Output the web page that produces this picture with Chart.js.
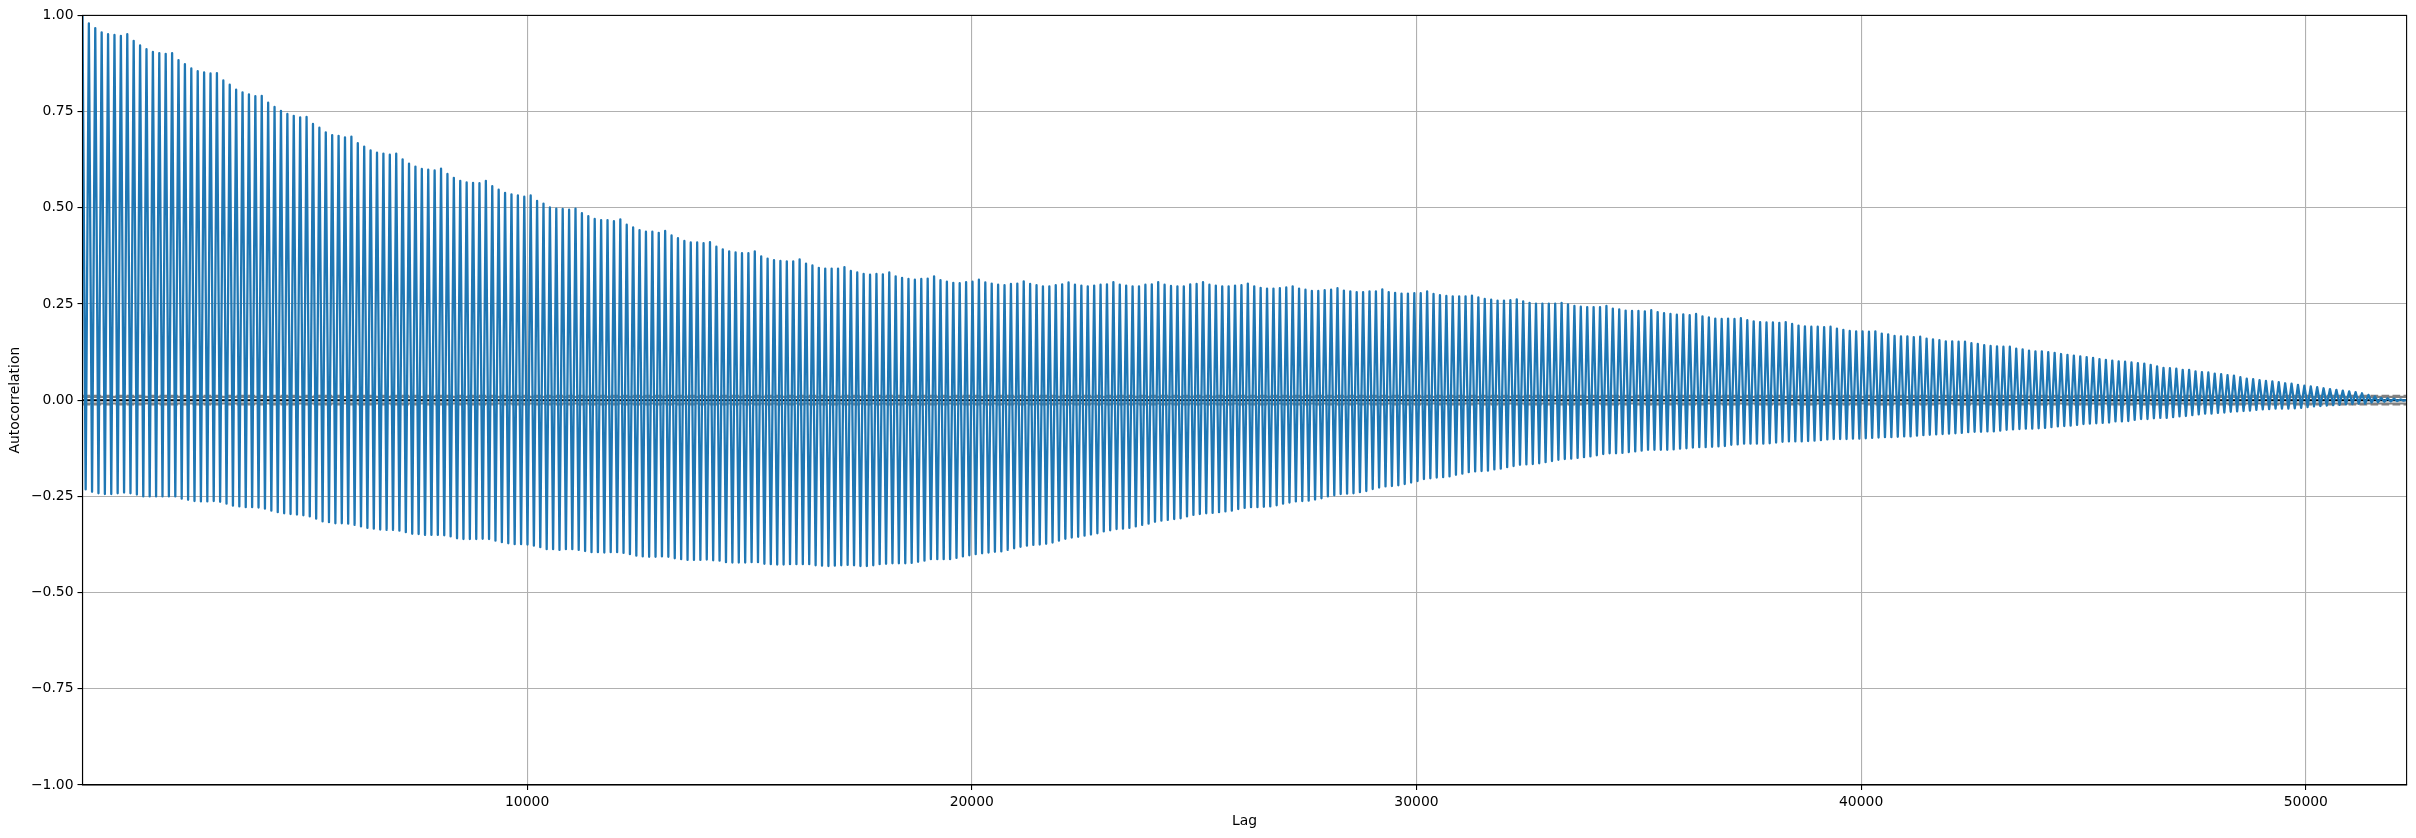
<!DOCTYPE html>
<html>
<head>
<meta charset="utf-8">
<title>Autocorrelation</title>
<script src="https://cdn.jsdelivr.net/npm/chart.js@4"></script>
<style>
  html, body { margin: 0; padding: 0; background: #fff; }
  canvas { display: block; }
</style>
</head>
<body>
<canvas id="myChart" width="2416" height="838"></canvas>
<script>
// tick labels
const xTicks = [10000, 20000, 30000, 40000, 50000];
const yTicks = [-1, -0.75, -0.5, -0.25, 0, 0.25, 0.5, 0.75, 1];

// lag range and the length of one cycle
const lagStart = 1;
const lagEnd = 52267;
const cycleLag = 144;

// top of each cycle (lag 144, 288, ...)
const peakValues = [
  .979,.967,.956,.951,.949,.947,.951,
  .934,.922,.912,.905,.902,.900,.902,
  .884,.873,.862,.855,.852,.849,.850,
  .831,.820,.807,.800,.795,.790,.791,
  .773,.762,.752,.744,.739,.735,.736,
  .718,.708,.696,.689,.687,.683,.685,
  .668,.659,.649,.643,.641,.638,.641,
  .626,.615,.607,.601,.599,.597,.602,
  .588,.578,.570,.566,.565,.564,.570,
  .556,.547,.539,.535,.532,.529,.532,
  .518,.511,.501,.498,.497,.495,.498,
  .486,.478,.471,.468,.468,.465,.470,
  .456,.449,.442,.438,.438,.435,.440,
  .428,.421,.414,.410,.410,.408,.411,
  .399,.392,.387,.384,.382,.382,.387,
  .374,.368,.364,.362,.361,.361,.366,
  .355,.350,.344,.342,.342,.342,.346,
  .336,.332,.328,.326,.328,.327,.332,
  .322,.318,.315,.313,.315,.316,.322,
  .312,.308,.305,.304,.307,.308,.313,
  .306,.303,.300,.299,.302,.303,.309,
  .302,.299,.296,.296,.299,.301,.306,
  .300,.298,.296,.298,.300,.301,.307,
  .300,.298,.296,.296,.300,.301,.307,
  .300,.297,.296,.296,.301,.302,.307,
  .300,.298,.296,.296,.298,.299,.303,
  .296,.292,.290,.290,.291,.293,.296,
  .290,.287,.284,.284,.286,.287,.291,
  .285,.283,.281,.281,.283,.283,.288,
  .281,.279,.277,.277,.278,.278,.283,
  .276,.273,.271,.270,.270,.270,.272,
  .267,.263,.261,.259,.259,.260,.262,
  .257,.253,.251,.251,.251,.251,
  .253,.249,.245,.243,.242,.242,.242,
  .245,.238,.236,.233,.232,.232,.231,
  .234,.229,.226,.224,.222,.223,.221,
  .224,.218,.215,.212,.211,.212,.211,
  .213,.208,.205,.203,.202,.202,.201,
  .203,.198,.194,.192,.191,.191,.190,
  .191,.186,.183,.180,.179,.179,.178,
  .179,.173,.171,.167,.166,.166,.164,
  .165,.160,.158,.156,.153,.153,.152,
  .152,.148,.146,.143,.141,.140,.139,
  .139,.134,.132,.129,.127,.127,.125,
  .123,.120,.118,.116,.114,.112,.110,.107,
  .105,.103,.101,.100,.098,.096,.095,
  .092,.088,.084,.083,.082,.079,.079,
  .075,.073,.072,.069,.068,.065,.064,
  .060,.056,.055,.052,.050,.049,.047,
  .044,.043,.040,.038,.036,.034,.031,
  .029,.027,.025,.023,.021,.018,.014,
  .010,.006,.005,.004,.002,.001
];

// bottom of each cycle (lag 72, 216, ...)
const troughValues = [
  -.232,-.238,-.242,-.244,-.244,-.242,-.240,
  -.242,-.245,-.250,-.250,-.250,-.250,-.250,
  -.250,-.256,-.259,-.262,-.263,-.263,-.262,
  -.264,-.269,-.274,-.276,-.278,-.278,-.279,
  -.282,-.287,-.291,-.294,-.296,-.297,-.299,
  -.302,-.308,-.315,-.317,-.320,-.320,-.321,
  -.324,-.328,-.332,-.334,-.336,-.337,-.337,
  -.339,-.343,-.347,-.348,-.350,-.350,-.350,
  -.351,-.354,-.359,-.361,-.361,-.361,-.360,
  -.361,-.365,-.369,-.372,-.374,-.374,-.375,
  -.378,-.382,-.387,-.387,-.389,-.387,-.387,-.389,
  -.392,-.395,-.395,-.396,-.395,-.395,-.397,
  -.400,-.404,-.406,-.407,-.407,-.406,-.407,
  -.411,-.413,-.415,-.415,-.415,-.414,-.416,
  -.417,-.421,-.422,-.422,-.422,-.421,-.421,
  -.425,-.426,-.427,-.427,-.426,-.426,-.426,
  -.426,-.429,-.430,-.431,-.430,-.429,-.428,
  -.429,-.431,-.431,-.429,-.426,-.425,-.424,
  -.424,-.424,-.423,-.420,-.417,-.413,-.413,
  -.413,-.413,-.410,-.406,-.403,-.400,-.398,
  -.396,-.394,-.393,-.389,-.385,-.381,-.378,
  -.376,-.375,-.373,-.370,-.365,-.360,
  -.357,-.355,-.352,-.349,-.346,-.341,-.338,
  -.335,-.334,-.332,-.328,-.324,-.321,-.316,
  -.313,-.311,-.309,-.307,-.302,-.298,-.296,
  -.294,-.293,-.291,-.289,-.287,-.283,-.280,
  -.278,-.278,-.277,-.276,-.273,-.269,-.266,
  -.263,-.262,-.261,-.258,-.255,-.250,-.247,
  -.244,-.243,-.242,-.239,-.236,-.231,-.227,
  -.224,-.223,-.221,-.218,-.214,-.210,-.205,
  -.203,-.201,-.200,-.198,-.194,-.191,-.187,
  -.185,-.184,-.183,-.180,-.178,-.174,-.171,
  -.168,-.167,-.166,-.164,-.161,-.158,-.155,
  -.153,-.152,-.150,-.148,-.146,-.143,-.140,
  -.138,-.138,-.137,-.135,-.133,-.131,-.129,
  -.129,-.129,-.129,-.128,-.126,-.125,-.123,
  -.122,-.122,-.121,-.120,-.119,-.116,-.115,
  -.113,-.113,-.113,-.113,-.112,-.110,-.108,
  -.107,-.107,-.107,-.106,-.105,-.104,-.102,
  -.101,-.101,-.101,-.100,-.100,-.099,-.098,
  -.097,-.096,-.096,-.095,-.094,-.094,-.092,
  -.091,-.090,-.089,-.088,-.087,-.086,-.085,
  -.083,-.082,-.082,-.081,-.081,-.079,-.077,
  -.076,-.075,-.074,-.074,-.073,-.072,-.070,-.068,
  -.067,-.066,-.064,-.062,-.061,-.060,
  -.059,-.058,-.055,-.055,-.054,-.051,-.049,
  -.049,-.047,-.046,-.046,-.044,-.042,-.041,
  -.039,-.037,-.035,-.035,-.033,-.032,-.030,
  -.029,-.028,-.027,-.025,-.024,-.023,-.022,
  -.022,-.022,-.021,-.020,-.018,-.016,-.015,
  -.014,-.013,-.012,-.011,-.010,-.009,-.009,
  -.006,-.005,-.004,-.003,-.002,-.001
];

// confidence bands, solid and dashed
const band95 = 0.0086;
const band99 = 0.0113;

// put trough, peak, trough, peak ... in lag order
const acfPoints = [{ x: lagStart, y: 1 }];
troughValues.forEach((trough, i) => {
  acfPoints.push({ x: cycleLag * i + cycleLag / 2, y: trough });
  if (i < peakValues.length) {
    acfPoints.push({ x: cycleLag * (i + 1), y: peakValues[i] });
  }
});
acfPoints.push({ x: lagEnd, y: 0 });

const hLine = (y, color, dash) => ({
  data: [{ x: lagStart, y: y }, { x: lagEnd, y: y }],
  borderColor: color,
  borderWidth: 2.08,
  borderDash: dash || [],
  pointRadius: 0,
  order: 1
});

// top and right edges of the box
const frame = {
  id: 'frame',
  afterDraw(chart) {
    const { ctx, chartArea: a } = chart;
    ctx.save();
    ctx.strokeStyle = '#000';
    ctx.lineWidth = 1.1;
    ctx.strokeRect(a.left, a.top, a.right - a.left, a.bottom - a.top);
    ctx.restore();
  }
};

const font = { family: '"DejaVu Sans"', size: 13.9 };
const ctx = document.getElementById('myChart');

new Chart(ctx, {
  type: 'line',
  data: {
    datasets: [
      {
        data: acfPoints,
        borderColor: '#1f77b4',
        borderWidth: 2.3,
        borderJoinStyle: 'round',
        pointRadius: 0,
        tension: 0,
        order: 0
      },
      hLine(band99, 'grey', [7.7, 3.3]),
      hLine(band95, 'grey'),
      hLine(0, 'black'),
      hLine(-band95, 'grey'),
      hLine(-band99, 'grey', [7.7, 3.3])
    ]
  },
  options: {
    responsive: false,
    animation: false,
    events: [],
    layout: { padding: { top: 15.4, right: 9.4, bottom: 0, left: 0 } },
    plugins: { legend: { display: false }, tooltip: { enabled: false } },
    scales: {
      x: {
        type: 'linear',
        min: lagStart,
        max: lagEnd,
        afterBuildTicks(axis) { axis.ticks = xTicks.map(v => ({ value: v })); },
        afterFit(axis) { axis.height = 53; },
        grid: { color: '#b0b0b0', lineWidth: 1.1, tickColor: '#000', tickLength: 5 },
        border: { color: '#000', width: 1.1 },
        ticks: { color: '#000', font: font, padding: 4, maxRotation: 0, callback: v => String(v) },
        title: { display: true, text: 'Lag', color: '#000', font: font, padding: { top: 4, bottom: 8 } }
      },
      y: {
        min: -1,
        max: 1,
        afterBuildTicks(axis) { axis.ticks = yTicks.map(v => ({ value: v })); },
        afterFit(axis) { axis.width = 82.5; },
        grid: { color: '#b0b0b0', lineWidth: 1.1, tickColor: '#000', tickLength: 5 },
        border: { color: '#000', width: 1.1 },
        ticks: {
          color: '#000',
          font: font,
          padding: 4,
          callback: v => v.toFixed(2).replace('-', '\u2212')
        },
        title: { display: true, text: 'Autocorrelation', color: '#000', font: font, padding: { top: 7.5, bottom: 0 } }
      }
    }
  },
  plugins: [frame]
});
</script>
</body>
</html>
